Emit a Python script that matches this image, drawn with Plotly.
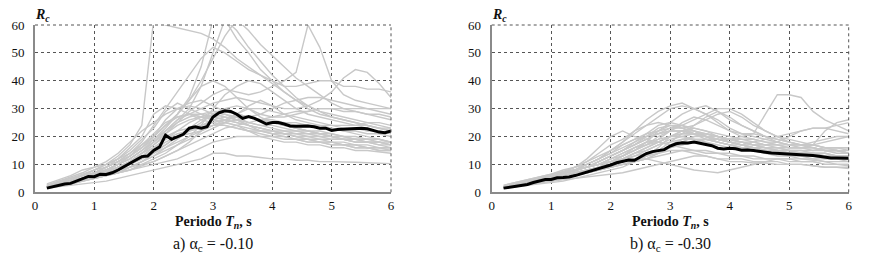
import plotly.graph_objects as go

# ---------------- data ----------------
T_MEAN = [0.2, 0.3, 0.4, 0.5, 0.6, 0.7, 0.8, 0.9, 1.0, 1.1, 1.2, 1.3, 1.4, 1.5, 1.6, 1.7, 1.8, 1.9,
          2.0, 2.1, 2.2, 2.3, 2.4, 2.5, 2.6, 2.7, 2.8, 2.9, 3.0, 3.1, 3.2, 3.3, 3.4, 3.5, 3.6, 3.7,
          3.8, 3.9, 4.0, 4.1, 4.2, 4.3, 4.4, 4.5, 4.6, 4.7, 4.8, 4.9, 5.0, 5.1, 5.2, 5.3, 5.4, 5.5,
          5.6, 5.7, 5.8, 5.9, 6.0]

MEAN_A = [1.5, 2.0, 2.5, 3.0, 3.2, 4.0, 4.7, 5.7, 5.6, 6.5, 6.4, 7.0, 8.0, 9.2, 10.5, 11.8, 12.8, 13.0,
          15.0, 16.3, 20.5, 19.0, 19.8, 20.8, 23.0, 23.5, 23.0, 23.5, 27.0, 28.5, 29.2, 29.0, 28.0, 26.5,
          27.2, 26.5, 25.5, 24.5, 25.0, 25.0, 24.5, 23.8, 23.7, 23.8, 23.8, 23.5, 23.0, 23.0, 22.2, 22.5,
          22.6, 22.6, 22.8, 23.0, 22.8, 22.3, 21.6, 21.4, 22.0]

MEAN_B = [1.5, 1.8, 2.2, 2.6, 2.8, 3.5, 4.0, 4.6, 4.6, 5.2, 5.3, 5.5, 6.0, 6.6, 7.4, 7.8, 8.4, 9.0,
          9.8, 10.6, 11.0, 11.6, 11.5, 12.8, 13.9, 14.6, 14.9, 15.3, 16.6, 17.4, 17.8, 17.7, 18.0, 17.6,
          17.2, 16.7, 15.8, 15.5, 15.8, 15.6, 15.1, 15.2, 15.0, 14.8, 14.4, 14.1, 14.0, 13.9, 13.7, 13.5,
          13.4, 13.5, 13.2, 12.9, 12.6, 12.3, 12.3, 12.3, 12.2]

T_REC = [0.2, 0.4, 0.6, 0.8, 1.0, 1.2, 1.4, 1.6, 1.8, 2.0, 2.2, 2.4, 2.6, 2.8, 3.0, 3.2, 3.4, 3.6,
         3.8, 4.0, 4.2, 4.4, 4.6, 4.8, 5.0, 5.2, 5.4, 5.6, 5.8, 6.0]

RECORDS_A = [
    [2.5, 3.5, 4.5, 6, 8, 10, 13, 17, 24, 62, 60, 59, 58, 57, 55, 52, 48, 45, 42, 39, 36, 33, 31, 29, 27, 26, 25, 24, 23, 22],
    [2, 3, 4, 5, 6, 8, 10, 13, 16, 20, 24, 28, 34, 45, 62, 62, 55, 50, 44, 40, 36, 33, 30, 28, 27, 26, 25, 24, 23, 22],
    [2, 3, 4, 5, 6, 7, 9, 11, 14, 18, 22, 26, 30, 38, 50, 62, 58, 52, 47, 42, 38, 34, 31, 29, 28, 27, 26, 25, 24, 23],
    [2, 3, 4, 5, 7, 8, 10, 12, 15, 19, 23, 28, 33, 40, 48, 56, 62, 58, 53, 49, 45, 41, 38, 35, 32, 30, 29, 28, 27, 26],
    [2, 3, 4, 5, 6, 7, 9, 11, 14, 17, 21, 25, 29, 32, 35, 37, 36, 35, 36, 38, 40, 43, 60, 52, 40, 35, 33, 32, 31, 30],
    [2, 3, 4, 5, 6, 8, 10, 12, 15, 18, 22, 26, 28, 30, 32, 33, 34, 33, 32, 31, 30, 30, 31, 33, 36, 41, 44, 43, 39, 34],
    [2, 3, 4, 5, 7, 9, 11, 14, 18, 24, 30, 36, 42, 48, 52, 50, 47, 44, 42, 40, 38, 38, 39, 40, 40, 38, 38, 37, 37, 36],
    [1.5, 2, 2.5, 3, 3.5, 4, 5, 6, 7, 8, 9, 10, 11, 12, 14, 14, 13, 13, 12.5, 12, 12, 11.5, 11.5, 11, 11, 11, 10.8, 10.6, 10.5, 10.3],
    [2, 3, 3.5, 4.5, 5, 6, 7, 8, 9.5, 11, 13, 15, 18, 22, 27, 28, 26, 24, 22, 21, 20, 19, 18, 18, 17, 17, 16, 16, 15, 15],
    [2.5, 4, 5.5, 7, 9, 11, 14, 18, 22, 25, 28, 30, 31, 30, 28, 27, 26, 25, 24, 24, 23, 22, 22, 21, 21, 20, 20, 19, 19, 18],
    [2, 3, 4, 6, 7, 9, 11, 14, 17, 20, 26, 30, 32, 33, 31, 29, 28, 27, 26, 25, 25, 24, 24, 23, 23, 22, 22, 21, 21, 20],
    [1.5, 2.5, 3, 4, 5, 6, 7, 9, 11, 13, 16, 19, 22, 25, 28, 30, 31, 30, 28, 27, 27, 28, 29, 30, 30, 29, 29, 28, 28, 27],
    [2, 3, 4, 5, 6, 7, 8, 10, 12, 15, 18, 20, 21, 22, 24, 25, 24, 22, 20, 19, 18, 18, 17, 17, 16, 16, 15, 15, 14.5, 14],
    [2, 3, 3.5, 4, 5, 6, 7, 8, 10, 12, 14, 17, 20, 24, 30, 35, 38, 40, 39, 36, 33, 30, 28, 27, 26, 25, 24, 24, 23, 23],
    [2, 3.5, 5, 6, 8, 10, 12, 15, 19, 23, 29, 32, 30, 28, 26, 25, 24, 23, 22, 22, 21, 20, 19, 18, 18, 17, 17, 16, 16, 16],
    [2, 3, 4, 5, 6, 7, 8, 9, 10, 11, 13, 15, 17, 19, 21, 23, 24, 25, 26, 27, 28, 29, 29, 30, 30, 30, 30, 30, 30, 30],
    [2, 3, 4, 4.5, 5, 6, 7, 9, 11, 14, 17, 20, 23, 26, 28, 29, 28, 27, 26, 25, 24, 23, 22, 22, 21, 20, 19, 19, 18, 17],
    [2, 3, 4, 5, 7, 9, 11, 13, 16, 20, 24, 28, 33, 38, 40, 38, 34, 30, 27, 25, 24, 23, 22, 21, 20, 19, 19, 18, 18, 17],
    [2.5, 3.5, 5, 6, 7, 8, 9, 11, 13, 16, 19, 22, 25, 27, 29, 28, 27, 25, 24, 23, 22, 22, 21, 21, 20, 20, 19, 19, 19, 18],
    [2, 3, 4, 5, 6, 8, 10, 13, 17, 21, 25, 27, 28, 27, 26, 25, 26, 27, 28, 30, 32, 33, 34, 34, 33, 32, 31, 30, 29, 28],
    [2, 3, 4, 5, 6, 7, 9, 11, 14, 16, 19, 21, 22, 23, 24, 24, 23, 22, 21, 20, 20, 19, 19, 18, 18, 17, 17, 16, 16, 16],
    [3, 4.5, 6, 8, 9, 10, 12, 14, 17, 20, 24, 27, 28, 28, 27, 26, 25, 24, 23, 22, 21, 21, 20, 20, 19, 19, 18, 18, 18, 17],
    [2, 3, 4, 5, 6, 7, 8, 10, 12, 14, 16, 18, 20, 22, 24, 26, 27, 27, 26, 25, 24, 23, 22, 21, 20, 19, 18, 18, 17, 16],
    [2, 3, 4, 5, 6.5, 8, 10, 12, 15, 18, 21, 24, 26, 27, 27, 26, 25, 24, 23, 22, 22, 21, 21, 20, 20, 19, 19, 18, 18, 18],
    [2, 3, 3.5, 4.5, 5.5, 6.5, 8, 9, 11, 13, 15, 17, 19, 21, 23, 25, 28, 30, 30, 29, 28, 27, 26, 25, 24, 24, 24, 25, 25, 24],
    [2.5, 4, 5, 6.5, 8, 9, 11, 13, 16, 19, 22, 25, 27, 28, 29, 29, 28, 27, 26, 26, 25, 25, 24, 24, 23, 22, 21, 20, 19, 18],
    [2, 3, 4, 5, 6, 7, 9, 11, 13, 15, 17, 20, 22, 24, 26, 27, 26, 24, 23, 22, 21, 20, 19, 19, 18, 18, 17, 17, 16, 15],
    [2, 3, 4, 5, 6, 7.5, 9, 11, 14, 17, 20, 22, 23, 24, 25, 26, 28, 31, 33, 31, 28, 26, 25, 24, 24, 23, 23, 22, 22, 21],
    [2, 2.5, 3, 4, 5, 6, 7, 8, 9, 10, 11, 12, 14, 16, 18, 19, 20, 20, 20, 20, 19, 19, 18, 18, 17, 17, 16, 16, 15, 15],
    [2, 3, 4, 5, 7, 9, 12, 16, 20, 28, 31, 30, 28, 26, 25, 24, 23, 22, 22, 21, 21, 20, 20, 19, 19, 19, 18, 18, 17, 17],
]

RECORDS_B = [
    [2, 3, 4, 5, 6, 7, 8, 10, 12, 15, 18, 22, 26, 29, 31, 32, 30, 28, 26, 23, 21, 20, 19, 18, 17, 16, 16, 15, 15, 14],
    [2, 3, 4, 5, 5.5, 6, 7, 8, 9, 11, 13, 15, 18, 22, 25, 28, 30, 31, 29, 26, 24, 22, 20, 19, 18, 17, 17, 16, 16, 15],
    [1.5, 2.5, 3, 4, 5, 6, 7, 8, 9, 10, 12, 14, 16, 18, 20, 21, 21, 20, 19, 19, 20, 21, 28, 35, 35, 34, 29, 26, 24, 22],
    [2, 3, 4, 5, 6, 7, 9, 11, 14, 17, 19, 22, 24, 25, 24, 23, 24, 26, 28, 29, 27, 24, 22, 20, 19, 18, 17, 16, 15, 14],
    [2, 3, 3.5, 4, 5, 6, 7, 8, 9, 10, 11, 12, 13, 14, 15, 15, 14, 13, 12, 11, 11, 10.5, 10.5, 10, 10, 10, 9.5, 9, 9, 9],
    [2, 3, 4, 5, 6, 7, 8, 9, 10, 12, 14, 16, 18, 19, 20, 20, 19, 18, 17, 16, 16, 15, 15, 14, 14, 14, 13, 13, 13, 13],
    [2, 2.5, 3, 4, 4.5, 5, 6, 7, 8, 9, 10, 11, 12, 14, 16, 18, 20, 20, 19, 18, 17, 17, 17, 18, 20, 22, 23, 23, 24, 25],
    [2, 3, 4, 5, 6, 7, 9, 12, 16, 20, 22, 20, 19, 18, 17, 16, 15, 14, 14, 13, 13, 12, 12, 12, 11, 11, 11, 10, 10, 10],
    [1.5, 2, 3, 3.5, 4, 4.5, 5, 6, 7, 8, 9, 11, 13, 16, 20, 22, 23, 22, 20, 18, 17, 16, 16, 15, 15, 14, 14, 14, 13, 13],
    [2, 3, 4, 5, 6, 7, 8, 9, 11, 13, 15, 17, 20, 23, 24, 23, 21, 19, 18, 17, 17, 18, 19, 20, 21, 22, 23, 23, 22, 21],
    [2, 3, 4, 4.5, 5, 6, 7, 8, 9, 10, 11, 12, 12, 11, 10, 9, 8, 7.5, 7, 8, 9, 10, 11, 12, 12, 12, 11.5, 11, 10, 9.5],
    [2, 3, 4, 5, 6, 7, 8, 10, 12, 14, 17, 19, 21, 22, 23, 23, 22, 21, 20, 19, 18, 17, 16, 16, 15, 15, 15, 16, 16, 16],
    [2, 3, 3.5, 4, 5, 5.5, 6, 7, 8, 9, 10, 11, 13, 15, 18, 21, 24, 27, 29, 27, 24, 22, 20, 18, 17, 17, 16, 15, 15, 14],
    [2.5, 3.5, 4.5, 5.5, 6.5, 7.5, 9, 10, 12, 14, 16, 18, 20, 22, 24, 24, 22, 20, 18, 17, 16, 15, 14, 14, 13, 13, 12, 12, 12, 12],
    [2, 3, 4, 5, 6, 7, 8, 9, 10, 11, 12, 13, 14, 15, 16, 17, 18, 19, 19, 18, 17, 16, 15, 15, 14, 14, 13, 13, 12, 12],
    [1.5, 2, 2.5, 3, 3.5, 4, 5, 5.5, 6, 6.5, 7, 8, 9, 10, 11, 12, 13, 13, 12, 12, 12, 11, 11, 11, 10, 10, 9.5, 9, 9, 8.5],
    [2, 3, 4, 5, 6, 7, 8, 10, 12, 15, 18, 21, 24, 27, 30, 31, 30, 28, 25, 22, 20, 19, 18, 17, 17, 17, 18, 19, 20, 20],
    [2, 3, 4, 5, 6, 7, 8, 9, 10, 11, 13, 15, 17, 19, 22, 24, 26, 28, 30, 30, 28, 25, 22, 20, 18, 17, 16, 15, 15, 14],
    [2, 3, 4, 5, 6, 7, 8, 9, 11, 13, 15, 18, 21, 24, 25, 24, 22, 20, 19, 18, 18, 17, 17, 16, 16, 16, 17, 18, 19, 20],
    [2, 2.5, 3, 3.5, 4, 5, 6, 7, 8, 9, 10, 11, 12, 14, 17, 19, 20, 21, 20, 19, 18, 17, 16, 16, 15, 15, 14, 14, 13, 13],
    [2, 3, 4, 4.5, 5, 6, 7, 8, 9, 11, 13, 16, 18, 18, 17, 17, 18, 19, 18, 17, 16, 15, 14, 13, 13, 12, 12, 11, 11, 11],
    [2, 3, 4, 5, 6, 7, 8, 9, 10, 12, 14, 16, 17, 18, 20, 22, 22, 21, 20, 19, 19, 19, 18, 18, 17, 17, 17, 22, 25, 26],
    [2, 3, 4, 5, 6, 7, 8, 9, 11, 13, 15, 17, 19, 21, 22, 22, 21, 20, 19, 18, 17, 16, 15, 15, 14, 14, 13, 13, 12, 12],
    [2, 3, 4, 5, 6, 7, 8, 9, 10, 11, 12, 14, 16, 18, 20, 21, 21, 20, 19, 18, 17, 16, 15, 14, 14, 13, 13, 12, 12, 11],
    [2, 3, 3.5, 4.5, 5.5, 6.5, 7.5, 9, 11, 13, 15, 17, 19, 21, 23, 24, 23, 22, 21, 20, 19, 18, 17, 17, 16, 16, 15, 15, 14, 14],
    [2, 2.5, 3, 4, 5, 5.5, 6, 7, 8, 9, 11, 13, 15, 17, 19, 20, 21, 21, 20, 19, 18, 18, 17, 17, 16, 16, 16, 15, 15, 15],
    [2.5, 3.5, 4.5, 5.5, 6.5, 8, 9, 11, 13, 15, 17, 19, 20, 21, 22, 22, 21, 20, 20, 19, 18, 17, 16, 15, 15, 14, 14, 13, 13, 12],
    [2, 3, 4, 5, 6, 7, 8, 9, 10, 12, 13, 15, 17, 20, 22, 25, 27, 26, 24, 22, 21, 21, 20, 19, 18, 17, 17, 16, 16, 16],
    [1.5, 2, 3, 3.5, 4, 5, 6, 7, 8, 9, 10, 11, 12, 13, 14, 15, 15, 15, 14, 14, 13, 13, 12, 12, 12, 11, 11, 10, 10, 10],
    [2, 3, 4, 5, 6, 7, 8, 9, 10, 11, 12, 14, 15, 17, 18, 19, 19, 19, 18, 17, 16, 16, 15, 15, 14, 14, 14, 13, 13, 13],
]

X_TICKS = [0, 1, 2, 3, 4, 5, 6]
Y_TICKS = [0, 10, 20, 30, 40, 50, 60]
CAPTIONS = ["a) α<sub>c</sub> = -0.10", "b) α<sub>c</sub> = -0.30"]
X_TITLE = "<b>Periodo <i>T<sub>n</sub></i>, s</b>"
Y_TITLE = "<b><i>R<sub>c</sub></i></b>"

# ---------------- figure ----------------
W, H = 870, 265
GRAY = "#c8c8c8"
FONT = "Liberation Serif, Times New Roman, serif"

fig = go.Figure()
panels = [("x", "y", RECORDS_A, MEAN_A), ("x2", "y2", RECORDS_B, MEAN_B)]
for xa, ya, recs, mean in panels:
    for rec in recs:
        fig.add_trace(go.Scatter(x=T_REC, y=rec, xaxis=xa, yaxis=ya, mode="lines",
                                 line=dict(color=GRAY, width=1.4), hoverinfo="skip",
                                 showlegend=False))
    fig.add_trace(go.Scatter(x=T_MEAN, y=mean, xaxis=xa, yaxis=ya, mode="lines",
                             line=dict(color="#000000", width=3), showlegend=False))

ydom = [1 - 192.3 / H, 1 - 25 / H]
xdoms = [[35 / W, 391 / W], [491.7 / W, 848.7 / W]]

axis_common = dict(showgrid=True, gridcolor="#555555", griddash="dot", gridwidth=1,
                   showline=True, linecolor="#8a8a8a", linewidth=2, ticks="",
                   zeroline=False, automargin=False,
                   tickfont=dict(family=FONT, size=13, color="#111111"))

layout = dict(width=W, height=H, margin=dict(l=0, r=0, t=0, b=0, autoexpand=False),
              paper_bgcolor="white", plot_bgcolor="white", showlegend=False)
for i, (xa, ya) in enumerate([("xaxis", "yaxis"), ("xaxis2", "yaxis2")]):
    layout[xa] = dict(domain=xdoms[i], range=[0, 6], tickvals=X_TICKS,
                      anchor="y" if i == 0 else "y2", **axis_common)
    layout[ya] = dict(domain=ydom, range=[0, 60], tickvals=Y_TICKS,
                      anchor="x" if i == 0 else "x2", ticklabelstandoff=6, **axis_common)
fig.update_layout(**layout)

anns = []
for i in range(2):
    cx = (xdoms[i][0] + xdoms[i][1]) / 2
    anns.append(dict(x=cx, y=1 - 222.5 / H, xref="paper", yref="paper", text=X_TITLE,
                     showarrow=False, xanchor="center", yanchor="middle",
                     font=dict(family=FONT, size=14, color="#111111")))
    anns.append(dict(x=cx, y=1 - 244 / H, xref="paper", yref="paper", text=CAPTIONS[i],
                     showarrow=False, xanchor="center", yanchor="middle",
                     font=dict(family=FONT, size=16, color="#111111")))
    anns.append(dict(x=xdoms[i][0] - 2 / W, y=1 - 16 / H, xref="paper", yref="paper",
                     text=Y_TITLE, showarrow=False, xanchor="left", yanchor="middle",
                     font=dict(family=FONT, size=14, color="#111111")))
fig.update_layout(annotations=anns)

# dotted border on top / right
for i in range(2):
    xr = "x domain" if i == 0 else "x2 domain"
    yr = "y domain" if i == 0 else "y2 domain"
    fig.add_shape(type="line", xref=xr, yref=yr, x0=0, x1=1, y0=1, y1=1,
                  line=dict(color="#555555", width=1, dash="dot"))
    fig.add_shape(type="line", xref=xr, yref=yr, x0=1, x1=1, y0=0, y1=1,
                  line=dict(color="#555555", width=1, dash="dot"))

fig.write_html("out.html", config={"displayModeBar": False},
               post_script="document.body.style.margin='0';document.body.style.overflow='hidden';")
